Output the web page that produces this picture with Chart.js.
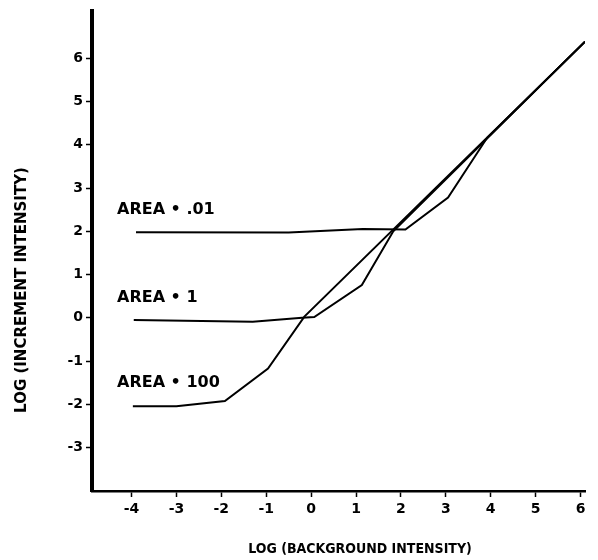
<!DOCTYPE html>
<html>
<head>
<meta charset="utf-8">
<script src="https://cdn.jsdelivr.net/npm/chart.js@4/dist/chart.umd.min.js"></script>
<style>
  html, body { margin: 0; padding: 0; background: #fff; }
  #wrap { width: 598px; height: 560px; }
</style>
</head>
<body>
<div id="wrap"><canvas id="c" width="598" height="560"></canvas></div>
<script>
// ---- data ----
const xTicks = [-4, -3, -2, -1, 0, 1, 2, 3, 4, 5, 6];
const yTicks = [-3, -2, -1, 0, 1, 2, 3, 4, 5, 6];

const seriesNames = ['AREA • .01', 'AREA • 1', 'AREA • 100'];

const area01X = [-3.9, -0.5, 1.15, 2.1, 3.05, 3.92, 6.1];
const area01Y = [1.98, 1.97, 2.05, 2.04, 2.78, 4.16, 6.38];

const area1X = [-3.95, -1.3, -0.2, 0.07, 1.13, 1.83, 6.1];
const area1Y = [-0.05, -0.09, 0.0, 0.02, 0.76, 2.0, 6.38];

const area100X = [-3.97, -3.0, -1.92, -0.96, -0.15, 6.1];
const area100Y = [-2.04, -2.04, -1.92, -1.17, 0.03, 6.38];

const xTitle = 'LOG (BACKGROUND INTENSITY)';
const yTitle = 'LOG (INCREMENT INTENSITY)';

// ---- build ----
function pts(xs, ys) { return xs.map((x, i) => ({ x: x, y: ys[i] })); }

const lineStyle = {
  borderColor: '#000',
  borderWidth: 2,
  pointRadius: 0,
  tension: 0,
  fill: false,
  showLine: true
};

const seriesData = [pts(area01X, area01Y), pts(area1X, area1Y), pts(area100X, area100Y)];

const labelPlugin = {
  id: 'labels',
  afterDraw(chart) {
    const ctx = chart.ctx;
    const ys = chart.scales.y;
    ctx.save();
    ctx.fillStyle = '#000';
    // series labels, placed above the start of each curve
    ctx.font = 'bold 16px "DejaVu Sans"';
    ctx.textAlign = 'left';
    ctx.textBaseline = 'middle';
    const offs = [22, 22, 23];
    seriesData.forEach((d, i) => {
      ctx.fillText(seriesNames[i], 117, ys.getPixelForValue(d[0].y) - offs[i]);
    });
    // x title
    ctx.font = 'bold 14px "DejaVu Sans Condensed", "Liberation Sans"';
    ctx.textAlign = 'center';
    ctx.fillText(xTitle, 360, 549);
    // y title
    ctx.translate(22, 290);
    ctx.rotate(-Math.PI / 2);
    ctx.font = 'bold 15px "DejaVu Sans"';
    ctx.fillText(yTitle, 0, 0);
    ctx.restore();
  }
};

const tickFont = { family: '"DejaVu Sans"', weight: 'bold', size: 14 };

new Chart(document.getElementById('c'), {
  type: 'scatter',
  data: {
    datasets: seriesData.map((d, i) => Object.assign({ label: seriesNames[i], data: d }, lineStyle))
  },
  options: {
    responsive: false,
    animation: false,
    layout: { padding: { top: 10, right: 13, left: 0, bottom: 0 } },
    plugins: { legend: { display: false }, tooltip: { enabled: false } },
    scales: {
      x: {
        type: 'linear',
        min: -4.88,
        max: 6.1,
        afterBuildTicks: s => { s.ticks = xTicks.map(v => ({ value: v })); },
        afterFit: s => { s.height = 69; },
        border: { display: true, color: '#000', width: 2.5 },
        grid: { display: true, drawOnChartArea: false, drawTicks: true, tickLength: 6, tickWidth: 1.5, tickColor: '#000' },
        ticks: {
          color: '#000',
          padding: 4,
          maxRotation: 0,
          autoSkip: false,
          font: tickFont,
          callback: v => String(v)
        }
      },
      y: {
        type: 'linear',
        min: -4,
        max: 7.08,
        afterBuildTicks: s => { s.ticks = yTicks.map(v => ({ value: v })); },
        afterFit: s => { s.width = 92; },
        border: { display: true, color: '#000', width: 4 },
        grid: { display: true, drawOnChartArea: false, drawTicks: true, tickLength: 6, tickWidth: 1.5, tickColor: '#000' },
        ticks: {
          color: '#000',
          padding: 3,
          autoSkip: false,
          font: tickFont,
          callback: v => String(v)
        }
      }
    }
  },
  plugins: [labelPlugin]
});
</script>
</body>
</html>
